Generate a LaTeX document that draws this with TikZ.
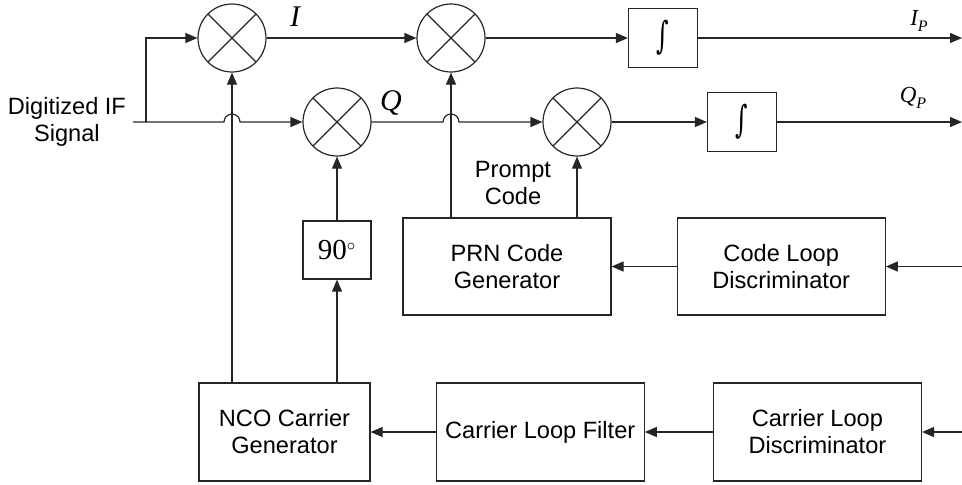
\documentclass[tikz,border=0pt]{standalone}
\usepackage{graphicx}
\usepackage{fontspec}
\setmainfont{Liberation Sans}
\newfontfamily\timesfont{Liberation Serif}
\newfontfamily\intfont{DejaVu Serif}
\usetikzlibrary{arrows.meta,positioning}

\begin{document}
\begin{tikzpicture}[%
	x=0.5pt,y=-0.5pt,>={Triangle[length=6pt,width=5pt]},
	node distance=32.5pt,
	every node/.style={font=\fontsize{11.8}{13.5}\selectfont},
	line/.style={draw=black!85,line width=0.6pt},
	mixer/.style={line,circle,minimum size=34pt,inner sep=0pt,
		path picture={\draw[line]
			(path picture bounding box.north west) -- (path picture bounding box.south east)
			(path picture bounding box.north east) -- (path picture bounding box.south west);}},
	block/.style={line,rectangle,align=center,minimum width=104pt,minimum height=48.5pt},
	intbox/.style={line,rectangle,minimum width=34.5pt,minimum height=29.5pt,inner sep=0pt,
		font=\intfont\fontsize{15}{17}\selectfont},
	sym/.style={font=\timesfont\itshape\fontsize{15}{17}\selectfont},
	outlbl/.style={font=\timesfont\itshape\fontsize{11.5}{13}\selectfont}]

	\useasboundingbox (0,0) rectangle (962,484);

	\node (SIG) [align=center,anchor=east] at (133,122) {Digitized IF\\Signal};
	\coordinate (SP) at (146,122);

	\node[mixer]	(MI)	at (232,38)	{};
	\node[mixer]	(MIP)	at (451,38)	{};
	\node[mixer]	(MQ)	at (337,122)	{};
	\node[mixer]	(MQP)	at (577,122)	{};

	\node[intbox]	(INTI)	at (663,38)	{\scalebox{0.8}[1.25]{∫}};
	\node[intbox]	(INTQ)	at (742,122)	{\scalebox{0.8}[1.25]{∫}};
	\coordinate (IP) at (962,38);
	\coordinate (QP) at (962,122);

	\node[sym]	(LI)	at (295,17)	{I};
	\node[sym]	(LQ)	at (391,103)	{Q};
	\node[outlbl]	(LIP)	at (919,21)	{I\raisebox{-3pt}{\fontsize{8}{9}\selectfont P}};
	\node[outlbl]	(LQP)	at (913,98)	{Q\raisebox{-3pt}{\fontsize{8}{9}\selectfont P}};

	\node[line,minimum width=34pt,minimum height=29pt,inner sep=0pt] (PH) at (337,250)
		{{\timesfont\fontsize{14.5}{16}\selectfont 90}$^{\circ}$};

	\node[block]	(PRN)	at (507,266.5)	{PRN Code\\Generator};
	\node[block]	(CLD)	[right=of PRN]	{Code Loop\\Discriminator};
	\node (PC) [align=center] at (513,183) {Prompt\\Code};
	\coordinate (CDIN) at (962,266.5);

	\node[block,minimum width=85.5pt,minimum height=49pt]	(NCO)	at (284.5,432)	{NCO Carrier\\Generator};
	\node[block,minimum height=49pt]	(CLF)	[right=of NCO]	{Carrier Loop Filter};
	\node[block,minimum height=49pt]	(CAD)	[right=34pt of CLF]	{Carrier Loop\\Discriminator};
	\coordinate (CAIN) at (962,432);

	\draw[line,->] (SIG.east) -- ([xshift=-4pt]MI |- SIG.east)
		arc[start angle=180,end angle=0,radius=4pt] -- (MQ);
	\draw[line,->] (SP) |- (MI);
	\draw[line,->] (MI) -- (MIP);
	\draw[line,->] (MIP) -- (INTI);
	\draw[line,->] (INTI) -- (IP);
	\draw[line,->] (MQ) -- ([xshift=-4pt]MIP |- MQ)
		arc[start angle=180,end angle=0,radius=4pt] -- (MQP);
	\draw[line,->] (MQP) -- (INTQ);
	\draw[line,->] (INTQ) -- (QP);

	\draw[line,->] (MI |- NCO.north) -- (MI);
	\draw[line,->] (MQ |- NCO.north) -- (PH);
	\draw[line,->] (PH) -- (MQ);
	\draw[line,->] (MIP |- PRN.north) -- (MIP);
	\draw[line,->] (MQP |- PRN.north) -- (MQP);

	\draw[line,->] (CDIN) -- (CLD);
	\draw[line,->] (CLD) -- (PRN);
	\draw[line,->] (CAIN) -- (CAD);
	\draw[line,->] (CAD) -- (CLF);
	\draw[line,->] (CLF) -- (NCO);

\end{tikzpicture}
\end{document}
